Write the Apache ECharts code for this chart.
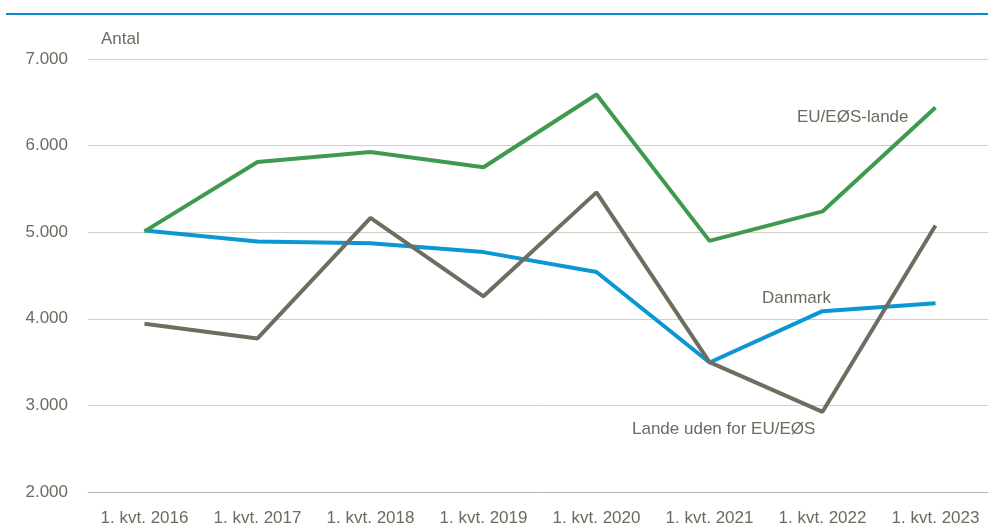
<!DOCTYPE html>
<html><head><meta charset="utf-8">
<script src="https://cdn.jsdelivr.net/npm/echarts@6/dist/echarts.min.js"></script>
<style>html,body{margin:0;padding:0;background:#fff}#c{width:988px;height:528px}</style>
</head><body><div id="c"></div>
<script>
const categories = ["1. kvt. 2016","1. kvt. 2017","1. kvt. 2018","1. kvt. 2019","1. kvt. 2020","1. kvt. 2021","1. kvt. 2022","1. kvt. 2023"];
const euEos = [5010, 5810, 5925, 5750, 6590, 4900, 5240, 6440];
const danmark = [5020, 4893, 4873, 4770, 4540, 3495, 4088, 4180];
const udenFor = [3942, 3773, 5166, 4260, 5460, 3500, 2926, 5077];
const yTicks = [2000, 3000, 4000, 5000, 6000, 7000];

const txt = '#6b6b5e';
const font = '"Liberation Sans", Arial, sans-serif';
const chart = echarts.init(document.getElementById('c'));
function fmt(v){ return String(v).replace(/\B(?=(\d{3})+(?!\d))/g, '.'); }
chart.setOption({
  animation: false,
  grid: { left: 88, top: 59, width: 904, height: 433, containLabel: false, outerBoundsMode: 'none' },
  xAxis: {
    type: 'category', data: categories, boundaryGap: true,
    axisLine: { show: true, lineStyle: { color: '#b8b8aa', width: 1 } },
    axisTick: { show: false },
    axisLabel: { color: txt, fontSize: 17, fontFamily: font, margin: 18, interval: 0 }
  },
  yAxis: {
    type: 'value', min: yTicks[0], max: yTicks[yTicks.length-1], interval: 1000,
    axisLine: { show: false }, axisTick: { show: false },
    splitLine: { lineStyle: { color: '#cfcfc4', width: 1 } },
    axisLabel: { color: txt, fontSize: 17, fontFamily: font, margin: 20, padding: [3,0,0,0], formatter: fmt }
  },
  series: [
    { name: 'EU/EØS-lande', type: 'line', data: euEos, symbol: 'none', lineStyle: { color: '#3f9a4f', width: 4 }, z: 3 },
    { name: 'Danmark', type: 'line', data: danmark, symbol: 'none', lineStyle: { color: '#0b96d4', width: 4 }, z: 2 },
    { name: 'Lande uden for EU/EØS', type: 'line', data: udenFor, symbol: 'none', lineStyle: { color: '#6e6d60', width: 4 }, z: 4 }
  ],
  graphic: [
    { type: 'rect', shape: { x: 6, y: 13, width: 982, height: 2 }, style: { fill: '#0a8bcb' } },
    { type: 'text', left: 101, top: 31, style: { text: 'Antal', fill: txt, font: '17px ' + font } },
    { type: 'text', left: 797, top: 109, style: { text: 'EU/EØS-lande', fill: txt, font: '17px ' + font } },
    { type: 'text', left: 762, top: 290, style: { text: 'Danmark', fill: txt, font: '17px ' + font } },
    { type: 'text', left: 632, top: 421, style: { text: 'Lande uden for EU/EØS', fill: txt, font: '17px ' + font } }
  ]
});
</script></body></html>
